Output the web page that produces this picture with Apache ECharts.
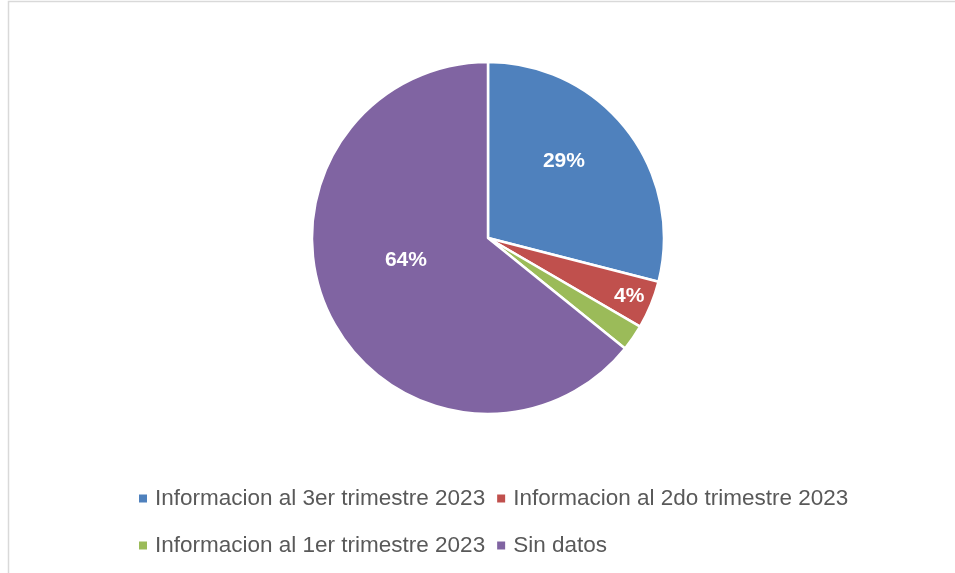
<!DOCTYPE html>
<html>
<head>
<meta charset="utf-8">
<script src="https://cdn.jsdelivr.net/npm/echarts@6/dist/echarts.min.js"></script>
<style>
  html, body { margin: 0; padding: 0; background: #fff; }
  #myChart { width: 955px; height: 573px; }
</style>
</head>
<body>
<div id="myChart"></div>
<script>
// categories and values
var categories = [
  'Informacion al 3er trimestre 2023',
  'Informacion al 2do trimestre 2023',
  'Informacion al 1er trimestre 2023',
  'Sin datos'
]
var values = [29.0, 4.4, 2.4, 64.2]
var colors = ['#4F81BD', '#C0504D', '#9BBB59', '#8064A2']
var showLabel = [true, true, false, true]
// nudge of each label from its default inside spot, px
var labelNudgeX = [4, 57, 0, 0]
var labelNudgeY = [-21, 24, 0, -17]

var cx = 488
var cy = 238
var radius = 176

var seriesData = categories.map(function (name, i) {
  return {
    name: name,
    value: values[i],
    itemStyle: { color: colors[i] },
    label: { show: showLabel[i] }
  }
})

var legendBase = {
  left: 137,
  padding: 0,
  icon: 'rect',
  itemWidth: 10,
  itemHeight: 10,
  itemGap: 10,
  textStyle: {
    color: '#595959',
    fontSize: 22.5,
    fontFamily: 'Liberation Sans',
    padding: [0, 0, 0, 2]
  }
}

var option = {
  animation: false,
  graphic: [
    {
      type: 'rect',
      shape: { x: 8.5, y: 1.5, width: 1000, height: 700 },
      style: { fill: 'none', stroke: '#d9d9d9', lineWidth: 1.5 }
    }
  ],
  legend: [
    Object.assign({}, legendBase, { data: [categories[0], categories[1]], top: 487 }),
    Object.assign({}, legendBase, { data: [categories[2], categories[3]], top: 534 })
  ],
  series: [
    {
      type: 'pie',
      center: [cx, cy],
      radius: radius,
      startAngle: 90,
      clockwise: true,
      itemStyle: { borderColor: '#fff', borderWidth: 2.5 },
      label: {
        position: 'inside',
        formatter: function (p) { return Math.round(p.value) + '%' },
        color: '#fff',
        fontSize: 21,
        fontWeight: 'bold',
        fontFamily: 'Liberation Sans'
      },
      labelLine: { show: false },
      labelLayout: function (p) {
        return { dx: labelNudgeX[p.dataIndex], dy: labelNudgeY[p.dataIndex] }
      },
      data: seriesData
    }
  ]
}

var myChart = echarts.init(document.getElementById('myChart'))
myChart.setOption(option)
</script>
</body>
</html>
